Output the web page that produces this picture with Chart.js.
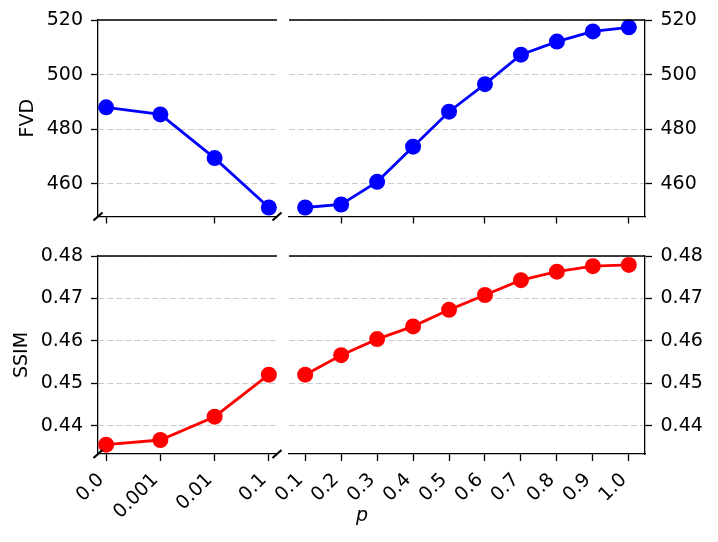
<!DOCTYPE html>
<html>
<head>
<meta charset="utf-8">
<script src="https://cdn.jsdelivr.net/npm/chart.js@4.4.0/dist/chart.umd.min.js"></script>
<style>
  body { margin: 0; background: #fff; }
  #wrap { position: relative; width: 718px; height: 542px; overflow: hidden; background: #fff; }
  #wrap canvas { position: absolute; }
  #plabel { position: absolute; left: 342px; width: 40px; top: 505px; text-align: center;
            font: italic 19px/19px "DejaVu Sans"; color: #000; }
</style>
</head>
<body>
<div id="wrap">
  <canvas id="fvdLeft" width="285" height="230" style="left:0;top:0"></canvas>
  <canvas id="fvdRight" width="448" height="230" style="left:270px;top:0"></canvas>
  <canvas id="ssimLeft" width="285" height="312" style="left:0;top:230px"></canvas>
  <canvas id="ssimRight" width="448" height="312" style="left:270px;top:230px"></canvas>
  <div id="plabel">p</div>
</div>
<script>
// p values (x categories), split at the axis break
var pLeft = ['0.0', '0.001', '0.01', '0.1'];
var pRight = ['0.1', '0.2', '0.3', '0.4', '0.5', '0.6', '0.7', '0.8', '0.9', '1.0'];

var fvdLeft = [488.0, 485.4, 469.4, 451.3];
var fvdRight = [451.3, 452.4, 460.7, 473.6, 486.4, 496.5, 507.3, 512.1, 515.8, 517.3];
var ssimLeft = [0.4355, 0.4366, 0.4421, 0.4520];
var ssimRight = [0.4520, 0.4566, 0.4604, 0.4634, 0.4673, 0.4708, 0.4743, 0.4763, 0.4776, 0.4779];

var fvdTicks = [460, 480, 500, 520];
var ssimTicks = [0.44, 0.45, 0.46, 0.47, 0.48];
// the top row only shows some tick marks, no labels
var topLeftTickIdx = [0, 2];
var topRightTickIdx = [1, 3, 5, 7, 9];

var FONT = { family: 'DejaVu Sans', size: 19 };

// top spine + the little "//" break marks
var panelFrame = {
    id: 'panelFrame',
    afterDraw: function (chart, args, o) {
        var ctx = chart.ctx, a = chart.chartArea;
        ctx.save();
        ctx.strokeStyle = '#000';
        ctx.lineWidth = 1.3;
        ctx.beginPath();
        ctx.moveTo(a.left, a.top);
        ctx.lineTo(a.right, a.top);
        ctx.stroke();
        if (o.breaks) {
            ctx.lineWidth = 2.2;
            [a.left, a.right].forEach(function (x) {
                ctx.beginPath();
                ctx.moveTo(x - 4.5, a.bottom + 4);
                ctx.lineTo(x + 4.5, a.bottom - 4);
                ctx.stroke();
            });
        }
        ctx.restore();
    }
};

function panel(id, cfg) {
    var n = cfg.labels.length;
    var margin = (n - 1) * 0.05;
    var all = cfg.labels.map(function (l, i) { return i; });
    var tickIdx = cfg.tickIdx || all;

    return new Chart(document.getElementById(id), {
        type: 'line',
        data: {
            datasets: [{
                data: cfg.values.map(function (v, i) { return { x: i, y: v }; }),
                borderColor: cfg.color,
                backgroundColor: cfg.color,
                borderWidth: 2.8,
                pointRadius: 8,
                pointHoverRadius: 8,
                pointBorderWidth: 0,
                tension: 0,
                clip: false
            }]
        },
        options: {
            responsive: false,
            animation: false,
            events: [],
            layout: { padding: cfg.padding },
            plugins: {
                legend: { display: false },
                tooltip: { enabled: false },
                panelFrame: { breaks: cfg.left }
            },
            scales: {
                x: {
                    type: 'linear',
                    min: -margin,
                    max: n - 1 + margin,
                    afterBuildTicks: function (s) {
                        s.ticks = tickIdx.map(function (i) { return { value: i }; });
                    },
                    afterFit: function (s) {
                        s.height = cfg.xHeight;
                        s.paddingLeft = 0;
                        s.paddingRight = 0;
                    },
                    ticks: {
                        display: cfg.xLabels,
                        autoSkip: false,
                        minRotation: 45,
                        maxRotation: 45,
                        padding: 8,
                        labelOffset: -5,
                        color: '#000',
                        font: FONT,
                        callback: function (v) { return cfg.labels[v]; }
                    },
                    grid: {
                        drawOnChartArea: false,
                        tickLength: 7,
                        tickColor: '#000',
                        tickWidth: 1.3
                    },
                    border: { color: '#000', width: 1.3 }
                },
                y: {
                    position: cfg.left ? 'left' : 'right',
                    min: cfg.yMin,
                    max: cfg.yMax,
                    afterBuildTicks: function (s) {
                        s.ticks = cfg.yTicks.map(function (v) { return { value: v }; });
                    },
                    afterFit: function (s) {
                        s.width = cfg.yWidth;
                        s.paddingTop = 0;
                        s.paddingBottom = 0;
                    },
                    ticks: {
                        padding: cfg.left ? 8 : 8.5,
                        color: '#000',
                        font: FONT,
                        callback: function (v) { return v.toFixed(cfg.digits); }
                    },
                    grid: {
                        color: '#cccccc',
                        lineWidth: 1,
                        tickLength: 7,
                        tickColor: '#000',
                        tickWidth: 1.3
                    },
                    border: { color: '#000', width: 1.3, dash: [6, 3] },
                    title: {
                        display: !!cfg.title,
                        text: cfg.title,
                        color: '#000',
                        font: FONT,
                        padding: { top: cfg.titlePad || 0, bottom: 0 }
                    }
                }
            }
        },
        plugins: [panelFrame]
    });
}

panel('fvdLeft', {
    labels: pLeft, values: fvdLeft, color: '#0000ff', left: true,
    tickIdx: topLeftTickIdx, xLabels: false, xHeight: 13.5,
    yMin: 448, yMax: 520, yTicks: fvdTicks, digits: 0, yWidth: 98,
    title: 'FVD', titlePad: 16.6,
    padding: { top: 20, right: 8, left: 0, bottom: 0 }
});

panel('fvdRight', {
    labels: pRight, values: fvdRight, color: '#0000ff', left: false,
    tickIdx: topRightTickIdx, xLabels: false, xHeight: 13.5,
    yMin: 448, yMax: 520, yTicks: fvdTicks, digits: 0, yWidth: 73,
    padding: { top: 20, right: 0, left: 19, bottom: 0 }
});

panel('ssimLeft', {
    labels: pLeft, values: ssimLeft, color: '#ff0000', left: true,
    xLabels: true, xHeight: 88,
    yMin: 0.4333, yMax: 0.48, yTicks: ssimTicks, digits: 2, yWidth: 98,
    title: 'SSIM', titlePad: 11.1,
    padding: { top: 26, right: 8, left: 0, bottom: 0 }
});

panel('ssimRight', {
    labels: pRight, values: ssimRight, color: '#ff0000', left: false,
    xLabels: true, xHeight: 88,
    yMin: 0.4333, yMax: 0.48, yTicks: ssimTicks, digits: 2, yWidth: 73,
    padding: { top: 26, right: 0, left: 19, bottom: 0 }
});
</script>
</body>
</html>
